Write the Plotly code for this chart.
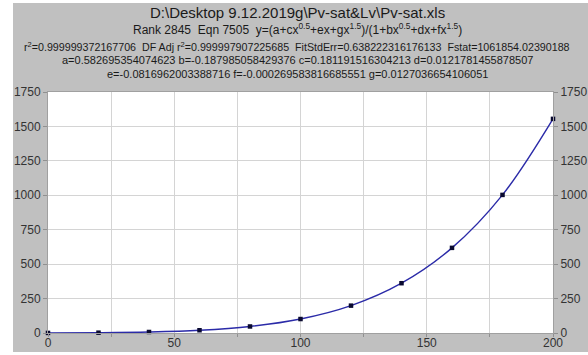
import plotly.graph_objects as go

# Data (temperature, saturation pressure)
x_vals = [0, 20, 40, 60, 80, 100, 120, 140, 160, 180, 200]
y_vals = [0.611, 2.339, 7.384, 19.946, 47.414, 101.42, 198.67, 361.53, 618.23, 1002.8, 1554.9]

x_ticks = [0, 50, 100, 150, 200]
y_ticks = [0, 250, 500, 750, 1000, 1250, 1500, 1750]

title_lines = [
    ("D:\\Desktop 9.12.2019g\\Pv-sat&Lv\\Pv-sat.xls", 15),
    ("Rank 2845  Eqn 7505  y=(a+cx<sup>0.5</sup>+ex+gx<sup>1.5</sup>)/(1+bx<sup>0.5</sup>+dx+fx<sup>1.5</sup>)", 12),
    ("r<sup>2</sup>=0.999999372167706  DF Adj r<sup>2</sup>=0.999997907225685  FitStdErr=0.638222316176133  Fstat=1061854.02390188", 10.7),
    ("a=0.582695354074623 b=-0.187985058429376 c=0.181191516304213 d=0.0121781455878507", 11),
    ("e=-0.0816962003388716 f=-0.000269583816685551 g=0.0127036654106051", 11),
]
title_y_px = [12, 29, 46, 60, 74]

W, H = 588, 355
L, R, T, B = 48, 35, 92, 22
pw, ph = W - L - R, H - T - B

def px_to_paper_x(px):
    return (px - L) / pw

def px_to_paper_y(py):
    return (H - B - py) / ph

fig = go.Figure()

fig.add_trace(go.Scatter(
    x=x_vals, y=y_vals, mode="lines",
    line=dict(color="#2b2ba8", width=1.4, shape="spline", smoothing=1.0),
    hoverinfo="skip", showlegend=False, cliponaxis=False,
))
fig.add_trace(go.Scatter(
    x=x_vals, y=y_vals, mode="markers",
    marker=dict(symbol="square", size=4.5, color="#0a0a30"),
    showlegend=False, cliponaxis=False,
))
# invisible trace for right axis
fig.add_trace(go.Scatter(x=[0, 200], y=[0, 1750], yaxis="y2", mode="markers",
                         marker=dict(opacity=0), showlegend=False, hoverinfo="skip"))

font_fam = "Liberation Sans, Arial, sans-serif"

shapes = [
    dict(type="rect", xref="paper", yref="paper", layer="below",
         x0=px_to_paper_x(13), x1=px_to_paper_x(590),
         y0=px_to_paper_y(352), y1=px_to_paper_y(3),
         fillcolor="#c0c0c0", line=dict(width=0)),
    dict(type="rect", xref="paper", yref="paper", layer="below",
         x0=0, x1=1, y0=0, y1=1,
         fillcolor="#ffffff", line=dict(width=0)),
]

annotations = []
for (txt, sz), ypx in zip(title_lines, title_y_px):
    annotations.append(dict(
        text=txt, xref="paper", yref="paper",
        x=px_to_paper_x(297), y=px_to_paper_y(ypx),
        xanchor="center", yanchor="middle", showarrow=False,
        font=dict(family=font_fam, size=sz, color="#1a1a1a"),
    ))

axis_common = dict(
    showline=True, linecolor="#a0a0a0", linewidth=1,
    gridcolor="#d4d4d4", gridwidth=1, zeroline=False,
    ticks="outside", ticklen=4, tickcolor="#909090",
    tickfont=dict(family=font_fam, size=12, color="#333333"),
    automargin=False,
)

xaxis_opts = dict(axis_common)
xaxis_opts["ticklen"] = 3

fig.update_layout(
    width=W, height=H,
    margin=dict(l=L, r=R, t=T, b=B, autoexpand=False),
    paper_bgcolor="#ffffff", plot_bgcolor="#ffffff",
    shapes=shapes, annotations=annotations,
    xaxis=dict(range=[0, 200], tickvals=x_ticks, mirror=True,
               minor=dict(dtick=25, showgrid=True, gridcolor="#d4d4d4",
                          ticks="outside", ticklen=3, tickcolor="#909090"),
               ticklabelstandoff=-4,
               **xaxis_opts),
    yaxis=dict(range=[0, 1750], tickvals=y_ticks, **axis_common),
    yaxis2=dict(range=[0, 1750], tickvals=y_ticks, overlaying="y", side="right",
                showgrid=False, **{k: v for k, v in axis_common.items() if k not in ("gridcolor", "gridwidth")}),
)

fig.write_html("out.html")
